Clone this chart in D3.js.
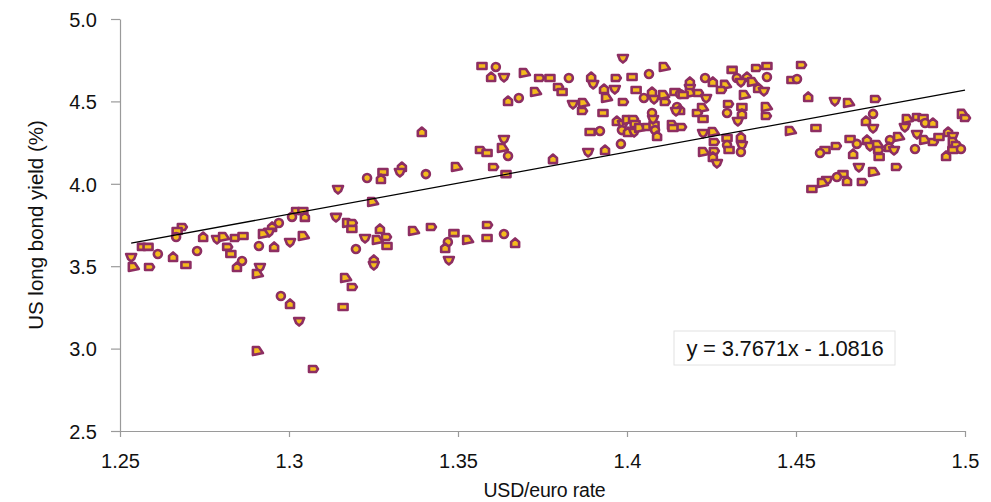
<!DOCTYPE html>
<html>
<head>
<meta charset="utf-8">
<script src="https://cdn.jsdelivr.net/npm/d3@7"></script>
<style>
  body { margin: 0; background: #fff; }
  text { font-family: "Liberation Sans", Arial, Helvetica, sans-serif; }
</style>
</head>
<body>
<div id="chart"></div>
<script>
// USD/euro rate (x) vs US long bond yield % (y)
var usdEuro = [
  1.3278,1.3231,1.3272,1.3145,1.3246,1.3021,1.3041,1.3009,1.3047,1.3139,
  1.3172,1.3186,1.3186,1.2970,1.2950,1.2941,1.2923,1.2683,1.2669,1.2666,
  1.2746,1.2787,1.2805,1.2840,1.2864,1.2911,1.2956,1.3003,1.3041,1.2817,
  1.2828,1.2861,1.2846,1.2914,1.2905,1.2565,1.2583,1.2612,1.2657,1.2533,
  1.2538,1.2586,1.2695,1.2728,1.3269,1.3225,1.3260,1.3287,1.3290,1.3198,
  1.3251,1.3251,1.3166,1.3186,1.3160,1.2976,1.3003,1.3030,1.2905,1.3071,
  1.3571,1.3612,1.3598,1.3636,1.3695,1.3740,1.3772,1.3828,1.3894,1.3900,
  1.3728,1.3796,1.3808,1.3680,1.3648,1.3840,1.3870,1.3867,1.3891,1.3920,
  1.3393,1.3636,1.3630,1.3565,1.3586,1.3648,1.3781,1.3885,1.3494,1.3604,
  1.3642,1.3405,1.3334,1.3328,1.3367,1.3420,1.3488,1.3470,1.3462,1.3473,
  1.3527,1.3586,1.3586,1.3636,1.3669,
  1.3988,1.4109,1.3967,1.4015,1.4065,1.3932,1.3964,1.3938,1.3988,1.4027,
  1.4050,1.4074,1.4080,1.4107,1.4112,1.4142,1.4157,1.4186,1.4186,1.4186,
  1.4210,1.4166,1.4231,1.4254,1.4234,1.4290,1.4278,1.4311,1.4325,1.4355,
  1.4337,1.4370,1.4382,1.4414,1.4414,1.4388,1.4405,1.4346,1.4299,1.4340,
  1.4296,1.4340,1.4328,1.4411,1.4411,1.3929,1.4148,1.4157,1.4145,1.4222,
  1.4207,1.4225,1.4074,1.3970,1.3988,1.4000,1.4018,1.4024,1.3985,1.4003,
  1.4021,1.4036,1.4059,1.4080,1.4083,1.4089,1.4077,1.4133,1.4160,1.4136,
  1.3982,1.3935,1.4225,1.4254,1.4257,1.4296,1.4296,1.4337,1.4340,1.4225,
  1.4257,1.4302,1.4337,1.4254,1.4266,1.4482,
  1.4515,1.4488,1.4503,1.4536,1.4615,1.4654,1.4734,1.4559,1.4728,1.4707,
  1.4728,1.4828,1.4858,1.4876,1.4882,1.4905,1.4822,1.4991,1.5000,1.4660,
  1.4680,1.4710,1.4719,1.4740,1.4743,1.4746,1.4778,1.4775,1.4790,1.4802,
  1.4618,1.4586,1.4571,1.4669,1.4858,1.4879,1.4905,1.4923,1.4852,1.4950,
  1.4964,1.4964,1.4973,1.4964,1.4988,1.4944,1.4686,1.4728,1.4796,1.4639,
  1.4621,1.4651,1.4592,1.4577,1.4695,1.4547
];
var bondYield = [
  4.072,4.035,4.029,3.968,3.890,3.835,3.835,3.799,3.799,3.799,
  3.762,3.762,3.726,3.762,3.738,3.708,3.695,3.738,3.714,3.677,
  3.677,3.665,3.677,3.671,3.683,3.623,3.617,3.647,3.683,3.617,
  3.574,3.532,3.495,3.495,3.453,3.617,3.617,3.574,3.556,3.556,
  3.495,3.495,3.507,3.592,3.726,3.671,3.659,3.677,3.623,3.604,
  3.538,3.507,3.428,3.374,3.252,3.319,3.271,3.167,2.985,2.876,
  4.715,4.709,4.648,4.648,4.672,4.642,4.642,4.642,4.648,4.606,
  4.557,4.587,4.557,4.521,4.502,4.484,4.490,4.442,4.314,4.320,
  4.314,4.272,4.217,4.205,4.187,4.169,4.150,4.193,4.102,4.102,
  4.059,4.059,4.102,4.072,3.714,3.738,3.701,3.647,3.610,3.538,
  3.659,3.750,3.671,3.695,3.641,
  4.763,4.709,4.642,4.648,4.666,4.575,4.575,4.521,4.496,4.569,
  4.521,4.557,4.515,4.539,4.496,4.557,4.545,4.618,4.581,4.551,
  4.551,4.539,4.642,4.618,4.521,4.600,4.569,4.691,4.642,4.648,
  4.618,4.618,4.703,4.715,4.648,4.581,4.563,4.539,4.484,4.466,
  4.430,4.424,4.381,4.466,4.411,4.430,4.466,4.448,4.442,4.460,
  4.430,4.393,4.430,4.381,4.363,4.387,4.393,4.363,4.326,4.314,
  4.314,4.339,4.345,4.357,4.326,4.290,4.393,4.357,4.345,4.339,
  4.242,4.205,4.308,4.314,4.254,4.278,4.235,4.284,4.235,4.193,
  4.199,4.205,4.193,4.163,4.126,4.320,
  4.721,4.630,4.636,4.527,4.502,4.490,4.515,4.339,4.424,4.381,
  4.339,4.393,4.405,4.399,4.369,4.369,4.345,4.424,4.399,4.272,
  4.242,4.266,4.229,4.235,4.205,4.163,4.266,4.223,4.205,4.284,
  4.229,4.205,4.187,4.181,4.302,4.266,4.254,4.284,4.211,4.314,
  4.290,4.254,4.235,4.205,4.211,4.169,4.102,4.072,4.102,4.059,
  4.041,4.017,4.023,4.005,4.011,3.968
];
var xTicks = [1.25, 1.3, 1.35, 1.4, 1.45, 1.5];
var xTickLabels = ["1.25", "1.3", "1.35", "1.4", "1.45", "1.5"];
var yTicks = [2.5, 3.0, 3.5, 4.0, 4.5, 5.0];
var slope = 3.7671, intercept = -1.0816;
var equationLabel = "y = 3.7671x - 1.0816";

var width = 991, height = 502;
var margin = {left: 120, top: 19, right: 26, bottom: 71};

var svg = d3.select('#chart').append('svg')
    .attr('width', width)
    .attr('height', height);

var x = d3.scaleLinear().domain([1.25, 1.5]).range([margin.left, width - margin.right]);
var y = d3.scaleLinear().domain([2.5, 5.0]).range([height - margin.bottom, margin.top]);

var points = usdEuro.map((v, i) => ({x: v, y: bondYield[i]}));

// axes
var xAxis = svg.append('g')
    .attr('transform', `translate(0,${y(2.5)})`)
    .call(d3.axisBottom(x).tickValues(xTicks).tickSize(6).tickSizeOuter(0)
        .tickFormat((d, i) => xTickLabels[i]));

var yAxis = svg.append('g')
    .attr('transform', `translate(${x(1.25)},0)`)
    .call(d3.axisLeft(y).tickValues(yTicks).tickSize(9).tickSizeOuter(0)
        .tickFormat(d3.format('.1f')));

svg.selectAll('.domain, .tick line').attr('stroke', '#9a9a9a').attr('stroke-width', 1.2);
xAxis.selectAll('text').attr('font-size', 20).attr('fill', '#111').attr('y', 0).attr('dy', 37);
yAxis.selectAll('text').attr('font-size', 20).attr('fill', '#111').attr('x', -23).attr('dy', '0.36em');

// axis titles
svg.append('text')
    .attr('x', (x(1.25) + x(1.5)) / 2 + 2)
    .attr('y', 497)
    .attr('text-anchor', 'middle')
    .attr('font-size', 19.5)
    .attr('letter-spacing', -0.2)
    .attr('fill', '#111')
    .text('USD/euro rate');

svg.append('text')
    .attr('transform', `translate(43,${(y(2.5) + y(5)) / 2}) rotate(-90)`)
    .attr('text-anchor', 'middle')
    .attr('font-size', 20.5)
    .attr('fill', '#111')
    .text('US long bond yield (%)');

// marker shapes, a handful of small blobs like the original
var shapes = [
  'M-4.5,-3L4.5,-3L4.5,3L-4.5,3Z',
  'M-4,0A4,4 0 1,1 4,0A4,4 0 1,1 -4,0Z',
  'M-4,4L4,4L4,-1L0,-4.5L-4,-1Z',
  'M-5,-3L5,-3L3,2L0,4.5L-3,2Z',
  'M-4,-4L2,-4L6,2L-4,4Z',
  'M-4,-3L3,-3L5,0L3,3L-4,3Z'
];

svg.append('g')
    .selectAll('path')
    .data(points)
    .enter().append('path')
    .attr('d', (d, i) => shapes[(i * 7) % shapes.length])
    .attr('transform', d => `translate(${x(d.x)},${y(d.y)})`)
    .attr('fill', '#f4bb1c')
    .attr('stroke', '#8d2e62')
    .attr('stroke-width', 2.6)
    .attr('stroke-linejoin', 'round');

// trend line over the data range
var ext = d3.extent(usdEuro);
svg.append('line')
    .attr('x1', x(ext[0])).attr('y1', y(slope * ext[0] + intercept))
    .attr('x2', x(ext[1])).attr('y2', y(slope * ext[1] + intercept))
    .attr('stroke', '#000')
    .attr('stroke-width', 1.3);

// equation label
svg.append('rect')
    .attr('x', 674).attr('y', 331)
    .attr('width', 221).attr('height', 34)
    .attr('fill', '#fff')
    .attr('stroke', '#e2e2e2');

svg.append('text')
    .attr('x', 785)
    .attr('y', 356)
    .attr('text-anchor', 'middle')
    .attr('font-size', 22)
    .attr('letter-spacing', -0.2)
    .attr('fill', '#111')
    .text(equationLabel);
</script>
</body>
</html>
